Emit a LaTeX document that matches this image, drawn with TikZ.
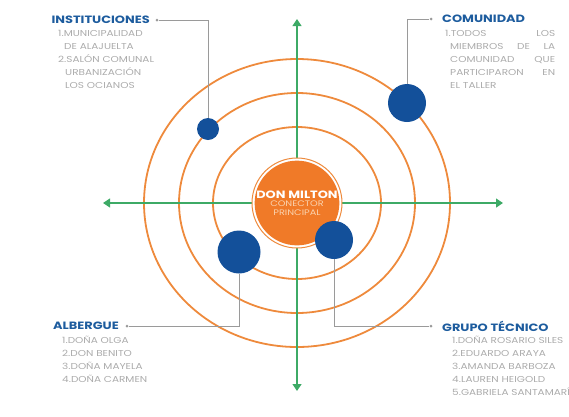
\documentclass[tikz,border=0pt]{standalone}
\usepackage{fontspec}
\setmainfont{Poppins}
\newfontfamily\anchafont[FakeStretch=1.22]{Poppins}
\usetikzlibrary{arrows.meta}

\definecolor{anillo}{HTML}{EE8A3C}
\definecolor{naranja}{HTML}{F07A28}
\definecolor{crema}{HTML}{FAD2AE}
\definecolor{eje}{HTML}{3DAA66}
\definecolor{azul}{HTML}{13509A}
\definecolor{titulo}{HTML}{1D5C9E}
\definecolor{texto}{HTML}{ABABAB}
\definecolor{guia}{HTML}{9A9A9A}

\tikzset{
  actor/.style={circle, fill=azul, inner sep=0pt},
  bullet/.style={circle, fill=guia, inner sep=0pt, minimum size=3pt},
  titulo/.style={text=titulo, font=\anchafont\bfseries\fontsize{10.6}{12}\selectfont, inner sep=0pt},
  lista/.style={anchor=north west, text=texto, font=\anchafont\fontsize{8.6}{13}\selectfont, align=left, inner sep=0pt},
  guia/.style={draw=guia, line width=0.6pt},
  eje/.style={draw=eje, line width=1.2pt, -{Triangle[length=7pt,width=9pt]}},
  orbita/.style={draw=anillo, line width=1.8pt},
}

\begin{document}
\begin{tikzpicture}[x=1pt,y=-1pt]
\useasboundingbox (0,0) rectangle (569,416);
\coordinate (c) at (297,203);

% orbitas
\draw[orbita] (c) ellipse (84pt and 76pt);
\draw[orbita] (c) ellipse (118pt and 110pt);
\draw[orbita] (c) ellipse (153pt and 144pt);

% ejes
\coordinate (arriba) at (297,19);
\coordinate (abajo) at (297,391);
\coordinate (izq) at (103,203);
\coordinate (der) at (503,203);
\draw[eje] (c) -- (arriba);
\draw[eje] (c) -- (abajo);
\draw[eje] (c) -- (izq);
\draw[eje] (c) -- (der);

% centro
\draw[anillo, line width=1pt, fill=white] (c) circle (45pt);
\node[circle, fill=naranja, minimum size=84pt, inner sep=0pt, align=center, text=crema,
  font=\anchafont\fontsize{8}{8.8}\selectfont] (milton) at (c)
  {\textcolor{white}{\bfseries\fontsize{10.6}{12}\selectfont DON MILTON}\\[-1pt]
   CONECTOR\\PRINCIPAL};

% actores
\node[actor, minimum size=22pt] (inst) at (208,129) {};
\node[actor, minimum size=38pt] (com) at (407,103) {};
\node[actor, minimum size=43pt] (alb) at (239,252) {};
\node[actor, minimum size=38pt] (gru) at (334,240) {};

% guias
\node[bullet] (binst) at (157,20) {};
\node[bullet] (bcom) at (431,19) {};
\node[bullet] (balb) at (127,326) {};
\node[bullet] (bgru) at (431,326) {};
\draw[guia] (inst.north) |- (binst);
\draw[guia] (com.north) |- (bcom);
\draw[guia] (alb.south) |- (balb);
\draw[guia] (gru.south) |- (bgru);

% textos
\node[titulo, anchor=east] (tinst) at (150,20) {INSTITUCIONES};
\node[titulo, anchor=west] (tcom) at (442,19) {COMUNIDAD};
\node[titulo, anchor=east] (talb) at (119,326) {ALBERGUE};
\node[titulo, anchor=west] (tgru) at (442,326) {GRUPO TÉCNICO};

\node[lista] (linst) at (58,30) {1.MUNICIPALIDAD\\\hspace*{6pt}DE ALAJUELTA\\2.SALÓN COMUNAL\\\hspace*{7pt}URBANIZACIÓN\\\hspace*{7pt}LOS OCIANOS};
\node[lista, text width=110pt] (lcom) at (445,30) {1.TODOS\hfill LOS\\\hspace*{5pt}MIEMBROS\hfill DE\hfill LA\\\hspace*{5pt}COMUNIDAD\hfill QUE\\\hspace*{5pt}PARTICIPARON\hfill EN\\\hspace*{5pt}EL TALLER};
\node[lista] (lalb) at (62,336) {1.DOÑA OLGA\\2.DON BENITO\\3.DOÑA MAYELA\\4.DOÑA CARMEN};
\node[lista] (lgru) at (452,336) {1.DOÑA ROSARIO SILES\\2.EDUARDO ARAYA\\3.AMANDA BARBOZA\\4.LAUREN HEIGOLD\\5.GABRIELA SANTAMARÍA};
\end{tikzpicture}
\end{document}
